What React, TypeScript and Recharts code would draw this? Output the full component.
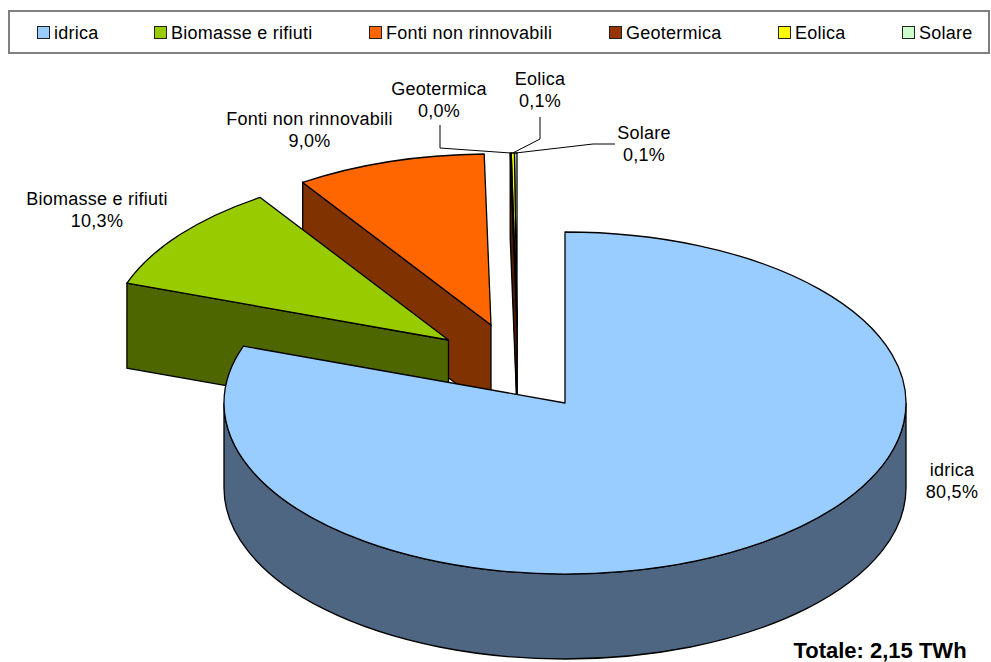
import { Legend, Pie, PieChart } from 'recharts';

const categories = ['idrica', 'Biomasse e rifiuti', 'Fonti non rinnovabili', 'Geotermica', 'Eolica', 'Solare'];
const shares = [80.46, 10.3, 9.0, 0.049, 0.149, 0.12];

const topColors = ['#99ccff', '#99cc00', '#ff6600', '#993300', '#ffff00', '#ccffcc'];
const wallColors = ['#4f6682', '#4d6600', '#803300', '#4d1a00', '#808000', '#668066'];
const legendSwatchX = [37, 154, 369, 609, 778, 902];
// how far each slice is pulled out of the pie, in px
const pullX = [0, -116.5, -74, -48, -48, -48];
const pullY = [0, -63, -78, -79, -79, -79];
// label centre x, first baseline y
const labelX = [952, 97, 309.5, 439, 540, 644];
const labelY = [476, 205, 125, 95, 85, 139];
// leader lines, label side first, the rim end is worked out from the slice
const leaders: Record<string, number[][]> = {
  Geotermica: [[440, 125], [440, 148]],
  Eolica: [[540, 117], [540, 139]],
  Solare: [[615, 144], [593, 144]],
};

const pieData = categories.map((name, i) => ({ name, value: shares[i] })).reverse();

const FONT = '"Liberation Sans", Arial, sans-serif';
const SQUASH = 0.5015;
const DEPTH = 85;

const Slice = (props: any) => {
  const { cx, cy, outerRadius, startAngle, endAngle, name } = props;
  const i = categories.indexOf(name);
  const rx = outerRadius;
  const ry = outerRadius * SQUASH;
  const tipX = cx + pullX[i];
  const tipY = cy + pullY[i];
  const s = Math.min(startAngle, endAngle);
  const e = Math.max(startAngle, endAngle);
  const px = (a: number) => tipX + rx * Math.cos((a * Math.PI) / 180);
  const py = (a: number) => tipY - ry * Math.sin((a * Math.PI) / 180);
  const top = `M${tipX},${tipY} L${px(s)},${py(s)} A${rx},${ry} 0 ${e - s > 180 ? 1 : 0} 0 ${px(e)},${py(e)} Z`;

  // front rim, only the part of the slice in the lower half
  const a0 = Math.max(s, 180);
  const a1 = Math.min(e, 360);
  const rim =
    a0 < a1
      ? `M${px(a0)},${py(a0)} A${rx},${ry} 0 0 0 ${px(a1)},${py(a1)} L${px(a1)},${py(a1) + DEPTH} A${rx},${ry} 0 0 1 ${px(a0)},${py(a0) + DEPTH} Z`
      : null;

  // cut face on the left edge of the pulled out slices
  const edge = e % 360;
  const cut =
    edge > 90 && edge < 270
      ? `M${tipX},${tipY} L${px(e)},${py(e)} L${px(e)},${py(e) + DEPTH} L${tipX},${tipY + DEPTH} Z`
      : null;

  return (
    <g>
      {rim && <path d={rim} fill={wallColors[i]} stroke="#000" strokeWidth={1.3} />}
      {cut && <path d={cut} fill={wallColors[i]} stroke="#000" strokeWidth={1.3} />}
      <path d={top} fill={topColors[i]} stroke="#000" strokeWidth={1.3} strokeLinejoin="round" />
    </g>
  );
};

const SliceLabel = (props: any) => {
  const { cx, cy, midAngle, outerRadius, name, value } = props;
  const i = categories.indexOf(name);
  const leader = leaders[name];
  const endX = cx + pullX[i] + outerRadius * Math.cos((midAngle * Math.PI) / 180);
  const endY = cy + pullY[i] - outerRadius * SQUASH * Math.sin((midAngle * Math.PI) / 180);
  return (
    <g>
      {leader && (
        <polyline
          points={[...leader, [endX, endY]].map((p) => p.join(',')).join(' ')}
          fill="none"
          stroke="#000"
          strokeWidth={1}
        />
      )}
      <text x={labelX[i]} y={labelY[i]} textAnchor="middle" fontFamily={FONT} fontSize={18} letterSpacing={0.25} fill="#000">
        {name}
      </text>
      <text x={labelX[i]} y={labelY[i] + 22} textAnchor="middle" fontFamily={FONT} fontSize={18} letterSpacing={0.25} fill="#000">
        {value.toFixed(1).replace('.', ',')}%
      </text>
    </g>
  );
};

const LegendBox = () => (
  <div
    style={{
      position: 'relative',
      width: 982,
      height: 44,
      border: '2px solid #808080',
      boxSizing: 'border-box',
      fontFamily: FONT,
      fontSize: 18,
      letterSpacing: 0.25,
      color: '#000',
    }}
  >
    {categories.map((name, i) => (
      <div key={name}>
        <span
          style={{
            position: 'absolute',
            left: legendSwatchX[i] - 10,
            top: 14,
            width: 13,
            height: 13,
            boxSizing: 'border-box',
            background: topColors[i],
            border: '1.5px solid #222',
          }}
        />
        <span style={{ position: 'absolute', left: legendSwatchX[i] + 7, top: 11, whiteSpace: 'nowrap', lineHeight: '20px' }}>
          {name}
        </span>
      </div>
    ))}
  </div>
);

export default function App() {
  return (
    <div style={{ position: 'fixed', left: 0, top: 0, width: 991, height: 662, background: '#fff', overflow: 'hidden' }}>
      <PieChart width={991} height={662} margin={{ top: 0, right: 0, bottom: 0, left: 0 }}>
        {/* horizontal + middle keeps the legend from eating into the plot area */}
        <Legend
          content={LegendBox}
          layout="horizontal"
          align="center"
          verticalAlign="middle"
          wrapperStyle={{ left: 8, top: 10, width: 982 }}
        />
        <Pie
          data={pieData}
          dataKey="value"
          nameKey="name"
          cx={565}
          cy={403}
          outerRadius={341}
          startAngle={90}
          endAngle={450}
          stroke="#000"
          shape={Slice}
          label={SliceLabel}
          labelLine={false}
          isAnimationActive={false}
        />
        <text x={880} y={658} textAnchor="middle" fontFamily={FONT} fontSize={22} fontWeight="bold" fill="#000">
          Totale: 2,15 TWh
        </text>
      </PieChart>
    </div>
  );
}
